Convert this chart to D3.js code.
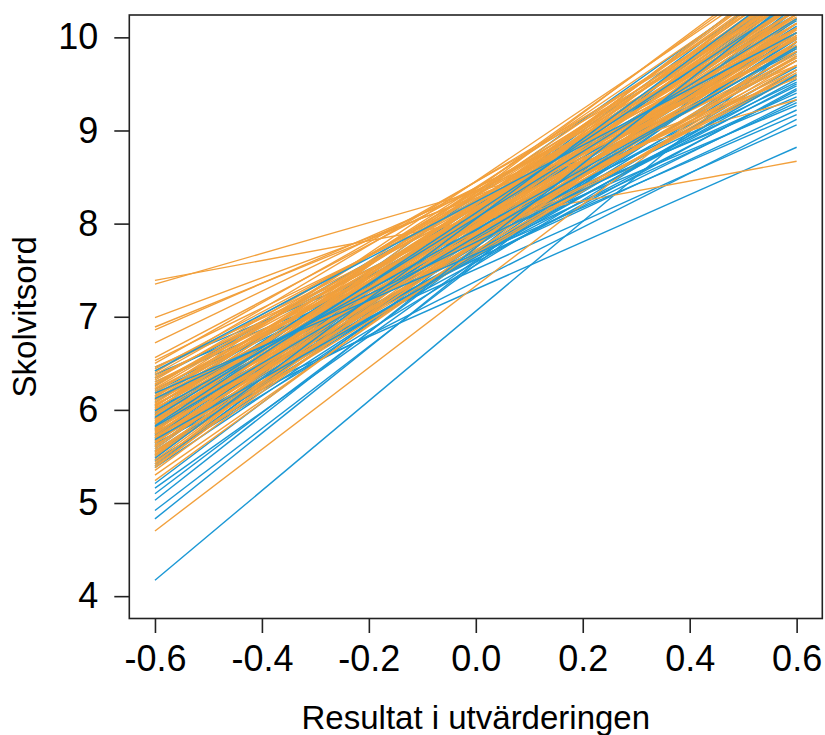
<!DOCTYPE html>
<html>
<head>
<meta charset="utf-8">
<script src="https://cdn.jsdelivr.net/npm/d3@7/dist/d3.min.js"></script>
<style>
html,body{margin:0;padding:0;background:#fff;}
svg{display:block;}
text{font-family:"Liberation Sans",Arial,Helvetica,sans-serif;fill:#000;}
</style>
</head>
<body>
<svg id="chart" width="825" height="735"></svg>
<script>
// x positions of each line's endpoints
const xEnds = [-0.6, 0.6];
const xTicks = [-0.6, -0.4, -0.2, 0.0, 0.2, 0.4, 0.6];
const xTickLabels = ["-0.6", "-0.4", "-0.2", "0.0", "0.2", "0.4", "0.6"];
const yTicks = [4, 5, 6, 7, 8, 9, 10];
const yTickLabels = ["4", "5", "6", "7", "8", "9", "10"];
const xTitle = "Resultat i utvärderingen";
const yTitle = "Skolvitsord";

// Blue group: predicted value at x = -0.6 and x = 0.6
const blueLeft = [4.17, 4.83, 4.92, 5.03, 5.10, 5.16, 5.21, 5.42, 5.45, 5.48, 5.52, 5.55, 5.58, 5.62, 5.65, 5.68,
  5.70, 5.73, 5.77, 5.79, 5.80, 5.83, 5.86, 5.88, 5.91, 5.94, 5.96, 5.99, 6.02, 6.05, 6.08, 6.11, 6.15, 6.18,
  6.22, 6.26, 6.30, 6.34, 6.38, 6.42, 6.46, 5.60, 5.50, 5.40, 5.85, 5.92, 6.00, 5.72, 5.64, 5.90, 5.46, 6.12,
  5.78, 5.56, 5.74, 5.97, 6.20, 5.82, 6.04, 5.67, 5.38];
const blueRight = [9.95, 10.35, 10.20, 10.45, 10.30, 10.05, 10.40, 10.50, 9.90, 10.62, 10.15, 9.80, 10.45, 9.70, 10.55, 9.60,
  10.30, 9.95, 8.82, 10.05, 9.55, 10.40, 9.43, 10.20, 9.50, 10.10, 9.06, 9.88, 9.22, 9.75, 10.30, 9.30, 10.00, 9.17,
  9.58, 10.25, 9.40, 9.85, 9.27, 10.05, 9.36, 10.70, 10.80, 10.60, 10.75, 10.20, 10.35, 9.45, 9.12, 9.33, 9.65, 9.48,
  10.52, 9.98, 10.12, 9.68, 9.52, 9.90, 10.18, 9.84, 10.00];

// Orange group: predicted value at x = -0.6 and x = 0.6
const orangeLeft = [7.39, 7.35, 6.99, 6.89, 6.86, 6.72, 6.56, 6.53, 6.50, 4.70, 5.24, 5.30, 5.35,
  5.38, 5.40, 5.42, 5.44, 5.46, 5.48, 5.50, 5.52, 5.54, 5.56, 5.58, 5.60, 5.61, 5.62, 5.64, 5.65, 5.67, 5.68,
  5.70, 5.71, 5.72, 5.74, 5.75, 5.77, 5.78, 5.80, 5.81, 5.82, 5.84, 5.85, 5.87, 5.88, 5.90, 5.91, 5.92, 5.94,
  5.95, 5.97, 5.98, 6.00, 6.01, 6.02, 6.04, 6.05, 6.07, 6.08, 6.10, 6.11, 6.12, 6.14, 6.15, 6.17, 6.18, 6.20,
  6.22, 6.23, 6.25, 6.27, 6.28, 6.30, 6.32, 6.34, 6.36, 6.38, 6.40, 6.42, 6.44, 6.46, 5.55, 5.66, 5.79, 5.93,
  6.06, 5.52, 5.69, 5.86, 6.03, 6.13, 5.89, 5.76];
const orangeRight = [8.67, 9.33, 9.56, 9.70, 9.85, 10.05, 10.20, 9.90, 10.40, 9.96, 10.25, 10.10, 10.40,
  10.55, 10.30, 10.70, 10.15, 10.45, 10.60, 10.25, 10.80, 10.35, 10.05, 10.50, 10.65, 10.20, 9.95, 10.40, 10.75, 10.10, 10.55,
  10.30, 9.85, 10.60, 10.45, 10.15, 10.70, 10.00, 10.35, 10.50, 9.90, 10.25, 10.62, 10.10, 10.40, 9.80, 10.55, 10.20, 10.05,
  10.45, 10.30, 9.95, 10.65, 10.15, 9.75, 10.38, 10.00, 10.55, 9.88, 10.25, 10.48, 9.70, 10.10, 10.35, 9.92, 10.60, 10.05,
  9.82, 10.28, 10.45, 9.98, 10.15, 9.65, 10.35, 10.02, 9.78, 10.22, 10.50, 9.90, 10.10, 9.60, 9.75, 9.70, 9.65, 9.62,
  9.58, 10.02, 10.08, 9.78, 10.72, 10.78, 10.85, 10.90];

const blueColor = "#1B98D5";
const orangeColor = "#F2A03C";

const svg = d3.select("#chart");
const x = d3.scaleLinear().domain([-0.648, 0.648]).range([129.3, 822.3]);
const y = d3.scaleLinear().domain([3.76, 10.24]).range([618.5, 15]);

svg.append("defs").append("clipPath").attr("id", "plotclip")
  .append("rect")
  .attr("x", x.range()[0]).attr("y", y.range()[1])
  .attr("width", x.range()[1] - x.range()[0])
  .attr("height", y.range()[0] - y.range()[1]);

const line = d3.line().x(d => x(d[0])).y(d => y(d[1]));
const plot = svg.append("g").attr("clip-path", "url(#plotclip)");

const blueLines = blueLeft.map((l, i) => ({i, pts: [[xEnds[0], l], [xEnds[1], blueRight[i]]]}));
const orangeLines = orangeLeft.map((l, i) => ({i, pts: [[xEnds[0], l], [xEnds[1], orangeRight[i]]]}));

function drawSet(data, color) {
  plot.append("g").selectAll("path")
    .data(data)
    .join("path")
    .attr("d", d => line(d.pts))
    .attr("fill", "none")
    .attr("stroke", color)
    .attr("stroke-width", 1.4);
}
// drawing order: most blue lines first, orange over them, a few blue lines on top
drawSet(blueLines.filter(d => d.i % 6 !== 3), blueColor);
drawSet(orangeLines, orangeColor);
drawSet(blueLines.filter(d => d.i % 6 === 3), blueColor);

// box
svg.append("rect")
  .attr("x", x.range()[0]).attr("y", y.range()[1])
  .attr("width", x.range()[1] - x.range()[0])
  .attr("height", y.range()[0] - y.range()[1])
  .attr("fill", "none").attr("stroke", "#222").attr("stroke-width", 1.6);

// x axis
const xAxis = d3.axisBottom(x).tickValues(xTicks).tickSize(14.5).tickPadding(12)
  .tickFormat((d, i) => xTickLabels[i]);
const gx = svg.append("g").attr("transform", `translate(0,${y.range()[0]})`).call(xAxis);
gx.select(".domain").attr("stroke", "none");
gx.selectAll(".tick line").attr("stroke", "#222").attr("stroke-width", 1.6);
gx.selectAll(".tick text").style("font-size", "36px").attr("font-family", null).attr("fill", "#000");

// y axis
const yAxis = d3.axisLeft(y).tickValues(yTicks).tickSize(15).tickPadding(16)
  .tickFormat((d, i) => yTickLabels[i]);
const gy = svg.append("g").attr("transform", `translate(${x.range()[0]},0)`).call(yAxis);
gy.select(".domain").attr("stroke", "none");
gy.selectAll(".tick line").attr("stroke", "#222").attr("stroke-width", 1.6);
gy.selectAll(".tick text").style("font-size", "36px").attr("font-family", null).attr("fill", "#000");

// titles
svg.append("text")
  .attr("x", (x.range()[0] + x.range()[1]) / 2).attr("y", 729)
  .attr("text-anchor", "middle").style("font-size", "33px").text(xTitle);
svg.append("text")
  .attr("transform", `translate(36,${(y.range()[0] + y.range()[1]) / 2}) rotate(-90)`)
  .attr("text-anchor", "middle").style("font-size", "33px").text(yTitle);
</script>
</body>
</html>
